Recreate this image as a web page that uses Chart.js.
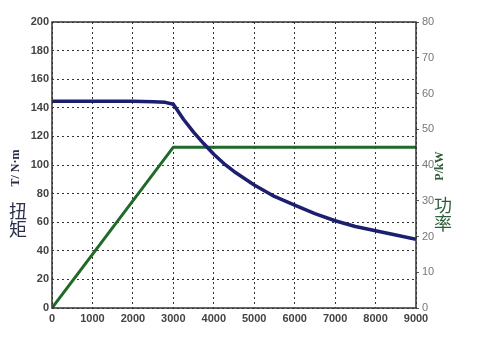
<!DOCTYPE html>
<html><head><meta charset="utf-8">
<script src="https://cdn.jsdelivr.net/npm/chart.js@4.4.1/dist/chart.umd.min.js"></script>
<style>html,body{margin:0;padding:0;background:#fff}#w{width:487px;height:355px}</style>
</head><body><div id="w"><canvas id="c" width="487" height="355"></canvas></div>
<script>
const rpmTorque = [0, 1000, 2000, 2500, 2800, 3000, 3250, 3500, 3750, 4000, 4250, 4500, 5000, 5500, 6000, 6500, 7000, 7500, 8000, 8500, 9000];
const torqueNm  = [144.5, 144.5, 144.5, 144.3, 143.8, 142.5, 132, 123, 115, 107.5, 101, 95.5, 86, 78, 72, 66, 61, 57, 54, 51, 48];
const rpmPower  = [0, 3000, 9000];
const powerKw   = [0, 45, 45];
const leftTitle = "T/ N·m", leftTitleCn = ["扭", "矩"];
const rightTitle = "P/kW", rightTitleCn = ["功", "率"];

const titles = {
  id: 'titles',
  afterDraw(chart) {
    const ctx = chart.ctx;
    ctx.save();
    ctx.fillStyle = '#2a2f4a';
    ctx.font = 'bold 12px "Liberation Serif"';
    ctx.textAlign = 'center'; ctx.textBaseline = 'middle';
    ctx.save(); ctx.translate(16, 168); ctx.rotate(-Math.PI / 2); ctx.fillText(leftTitle, 0, 0); ctx.restore();
    ctx.font = '18px "Noto Sans CJK SC"';
    ctx.fillText(leftTitleCn[0], 18, 211);
    ctx.fillText(leftTitleCn[1], 18, 229);
    ctx.fillStyle = '#2f5e3a';
    ctx.font = 'bold 12px "Liberation Serif"';
    ctx.save(); ctx.translate(440, 166); ctx.rotate(-Math.PI / 2); ctx.fillText(rightTitle, 0, 0); ctx.restore();
    ctx.font = '18px "Noto Sans CJK SC"';
    ctx.fillText(rightTitleCn[0], 443, 205);
    ctx.fillText(rightTitleCn[1], 443, 223);
    const a = chart.chartArea;
    ctx.strokeStyle = '#333'; ctx.lineWidth = 1.5;
    ctx.strokeRect(a.left, a.top, a.right - a.left, a.bottom - a.top);
    ctx.restore();
  }
};

new Chart(document.getElementById('c'), {
  type: 'line',
  data: {
    datasets: [
      { label: 'Torque', data: rpmTorque.map((x, i) => ({x, y: torqueNm[i]})), yAxisID: 'y',
        borderColor: '#1c1f6e', borderWidth: 3.5, pointRadius: 0, tension: 0, borderJoinStyle: 'round' },
      { label: 'Power', data: rpmPower.map((x, i) => ({x, y: powerKw[i]})), yAxisID: 'y2',
        borderColor: '#1f6a28', borderWidth: 3, pointRadius: 0, tension: 0 }
    ]
  },
  options: {
    responsive: false, animation: false, devicePixelRatio: 1,
    layout: { padding: { top: 22, bottom: 0, left: 0, right: 0 } },
    plugins: { legend: { display: false }, tooltip: { enabled: false } },
    scales: {
      x: {
        type: 'linear', min: 0, max: 9000,
        ticks: { stepSize: 1000, color: '#444', font: { family: 'Liberation Sans', size: 11, weight: 'bold' }, padding: 4, maxRotation: 0,
                 callback: v => String(v) },
        grid: { color: '#333', lineWidth: 1, drawTicks: false },
        border: { display: false, dash: [2, 3] },
        afterFit(s) { s.height = 47; }
      },
      y: {
        position: 'left', min: 0, max: 200,
        ticks: { stepSize: 20, color: '#444', font: { family: 'Liberation Sans', size: 11, weight: 'bold' }, padding: 3,
                 callback: v => String(v) },
        grid: { color: '#333', lineWidth: 1, drawTicks: false },
        border: { display: false, dash: [2, 3] },
        afterFit(s) { s.width = 52; }
      },
      y2: {
        position: 'right', min: 0, max: 80,
        ticks: { stepSize: 10, color: '#777', font: { family: 'Liberation Sans', size: 11 }, padding: 3,
                 callback: v => String(v) },
        grid: { drawOnChartArea: false, color: '#555', tickLength: 3 },
        border: { display: false },
        afterFit(s) { s.width = 71; }
      }
    }
  },
  plugins: [titles]
});
</script>
</body></html>
